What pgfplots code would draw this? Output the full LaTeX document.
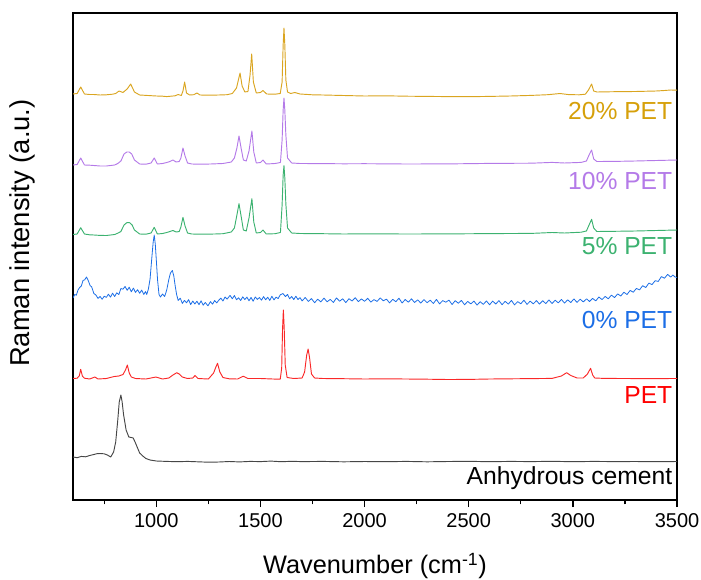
\documentclass[border=0pt]{standalone}
\usepackage{fontspec}
\setmainfont{Liberation Sans}
\usepackage{pgfplots}
\pgfplotsset{compat=1.18}
\definecolor{cgold}{RGB}{218,165,32}
\definecolor{cgoldt}{RGB}{214,160,10}
\definecolor{cpurple}{RGB}{180,122,232}
\definecolor{cgreen}{RGB}{60,178,112}
\definecolor{cblue}{RGB}{28,110,230}
\definecolor{cred}{RGB}{250,40,40}
\definecolor{cblack}{RGB}{70,70,70}
\begin{document}
\begin{tikzpicture}
\begin{axis}[
  at={(0,0)}, anchor=south west,
  scale only axis, width=453pt, height=365.25pt,
  xmin=600, xmax=3500, ymin=0, ymax=487,
  axis line style={line width=1.2pt},
  xtick={1000,1500,2000,2500,3000,3500},
  minor xtick={750,1250,1750,2250,2750,3250},
  xtick pos=bottom, ytick=\empty,
  tick align=outside,
  major tick length=5.25pt, minor tick length=3.2pt,
  every tick/.style={line width=1pt, black},
  /pgf/number format/assume math mode=true,
  /pgf/number format/1000 sep={},
  tick label style={font=\fontsize{15}{17}\selectfont},
  xticklabel style={yshift=-1pt},
  xlabel={Wavenumber (cm\textsuperscript{-1})},
  ylabel={Raman intensity (a.u.)},
  xlabel style={font=\fontsize{19}{22}\selectfont, at={(rel axis cs:0.5,0)}, anchor=center, yshift=-49.5pt},
  ylabel style={font=\fontsize{20.5}{24}\selectfont, at={([xshift=-38.25pt]rel axis cs:0,0.548)}, anchor=center},
  every axis plot/.append style={no marks, line width=0.7pt, line join=round},
  clip=true,
]
% 20% PET
\addplot[cgold] coordinates {
(600,406)(620,406.5)(637,413)(655,406)(680,405.5)(700,405.5)(730,405)(760,405.2)(790,405.8)(805,406.5)(821,409)(840,407.5)(860,411)(877,416)(895,408)(920,405)(960,404.5)(1000,404)(1030,403.8)(1050,403.4)(1075,403.9)(1090,404.2)(1105,405.5)(1120,404.5)(1128,409)(1136,418)(1145,407)(1160,405)(1180,405.3)(1195,407)(1210,405)(1250,404.8)(1300,405)(1340,405.3)(1365,406.5)(1385,412)(1402,427)(1412,414)(1425,408)(1440,408.5)(1450,425)(1458,446)(1466,418)(1480,407)(1500,407.5)(1512,409.5)(1530,406)(1570,405.8)(1595,406.5)(1604,418)(1609,455)(1613,472)(1617,455)(1622,420)(1630,408)(1645,406.5)(1665,407.5)(1690,406)(1750,405.2)(1800,405)(1900,404.5)(2000,404)(2100,404.2)(2200,403.8)(2300,403.6)(2400,403.4)(2500,403.3)(2600,403.6)(2700,404)(2800,404.6)(2880,405.3)(2938,406.5)(2980,405.4)(3030,405.2)(3060,405.8)(3075,410)(3090,416)(3100,409)(3115,408)(3200,408.3)(3300,408.5)(3400,409)(3440,409.5)(3470,410)(3500,409.8)
};
% 10% PET
\addplot[cpurple] coordinates {
(600,335)(620,335.5)(637,342)(655,335)(680,334.8)(700,334.5)(730,334)(760,334)(800,335)(815,336.5)(830,339)(845,346)(858,348)(870,348)(882,346)(895,340)(920,336)(950,335.8)(975,337)(990,342)(1005,336)(1030,336.5)(1050,337.5)(1065,338.5)(1080,340)(1095,338)(1110,338.5)(1118,342)(1128,352)(1138,344)(1150,337)(1170,336)(1210,335.8)(1260,336)(1320,336.5)(1360,338)(1375,342)(1387,352)(1397,364)(1407,352)(1418,340)(1432,339)(1445,349)(1459,369)(1468,348)(1480,337)(1500,337.5)(1512,340)(1528,336)(1570,336.5)(1596,337.5)(1604,360)(1609,390)(1613,402)(1617,390)(1622,365)(1630,342)(1650,337)(1690,336.5)(1800,336.4)(1900,336.2)(2000,336.3)(2200,336)(2400,336.1)(2600,336.6)(2800,336.8)(2900,337.6)(2960,337)(3040,337.6)(3065,339)(3080,346)(3090,350)(3100,341)(3115,338.5)(3200,338.6)(3300,339)(3400,339.5)(3500,340)
};
% 5% PET
\addplot[cgreen] coordinates {
(600,265.5)(620,266)(637,272.3)(655,266)(680,265.2)(700,265)(730,264.6)(760,264.5)(800,265.5)(815,266.8)(830,268.5)(845,275)(858,277.3)(872,277.3)(884,275)(895,270)(920,266)(950,265.8)(975,267)(990,272.7)(1005,266)(1030,266.5)(1050,267.5)(1065,268.5)(1080,269.5)(1095,268)(1110,268.5)(1118,273)(1128,282.7)(1138,274)(1150,267)(1170,266)(1220,265.8)(1280,266)(1320,266.3)(1360,268)(1375,272)(1387,285)(1397,296.3)(1407,284)(1418,270)(1432,269)(1445,282)(1459,301.3)(1468,278)(1480,267)(1500,267.5)(1512,270)(1528,266)(1570,266.3)(1596,267.5)(1604,295)(1609,325)(1613,334.3)(1617,322)(1622,296)(1630,272)(1650,267)(1690,266.5)(1800,266.3)(1900,266)(2000,266.2)(2200,266)(2400,266.1)(2600,266.4)(2800,266.6)(2900,267.5)(2960,267)(3040,267.8)(3065,269)(3080,276)(3090,280.7)(3100,272)(3115,268.5)(3200,268.7)(3300,269)(3400,269.5)(3500,270)
};
% 0% PET
\addplot[cblue, line width=0.6pt] coordinates {
(600,202)(608,205.5)(616,204.8)(624,210)(632,212.5)(640,214)(648,219.5)(656,220.2)(665,223)(674,219)(682,214.5)(690,213)(700,206.5)(710,205)(720,201.6)(730,203.5)(740,200.8)(750,203.8)(760,202.6)(770,205.8)(780,202.9)(790,206.8)(800,203.5)(810,207.2)(820,205.4)(830,211.5)(840,210.8)(850,213.6)(860,209.7)(870,212.8)(880,208.2)(890,211.9)(900,207.6)(910,210.3)(920,206.8)(930,209.9)(940,205.6)(948,208.4)(954,205.5)(962,211)(970,221)(976,236)(980,246)(985,258)(990,265)(995,256)(1000,240)(1006,220)(1013,205.5)(1020,203)(1030,206)(1040,203.5)(1050,210)(1060,220.5)(1068,227)(1077,229.5)(1084,224)(1090,215)(1097,206)(1105,199.5)(1115,201.8)(1125,196.6)(1135,199.6)(1145,197.2)(1155,200.4)(1165,195.4)(1175,199)(1185,196)(1195,198.8)(1205,195.3)(1215,199.2)(1225,194.8)(1235,197.5)(1248,194.2)(1260,198.4)(1270,195.8)(1280,199.5)(1290,197.1)(1300,199.8)(1310,201.9)(1320,199)(1330,203)(1340,200.9)(1354,204.6)(1365,201.2)(1375,204.5)(1385,200.3)(1395,202.2)(1405,199.5)(1415,203.2)(1425,200.4)(1435,202.9)(1445,199.2)(1455,202.6)(1465,198.7)(1475,203.1)(1485,200.6)(1495,202.5)(1505,199.8)(1515,203.4)(1525,200.2)(1535,202.8)(1545,199.6)(1555,203.7)(1565,200.1)(1575,202.9)(1585,201.4)(1595,205.2)(1608,206.5)(1620,203.4)(1630,205.6)(1640,201.2)(1650,203.5)(1660,200.4)(1670,203.8)(1680,200.5)(1690,202.4)(1700,199.1)(1715,202.5)(1730,198.6)(1745,201.4)(1760,197.3)(1775,200.8)(1790,198.1)(1805,201.9)(1820,198.2)(1835,200.6)(1850,197.5)(1865,202.1)(1880,198.8)(1895,201.2)(1910,197.4)(1925,201.3)(1940,199)(1955,202.3)(1970,198.4)(1985,201.1)(2000,198.7)(2015,201.7)(2030,197.9)(2045,200.4)(2060,198.6)(2075,202.1)(2090,199.2)(2105,200.9)(2120,197.1)(2135,200.7)(2150,198.3)(2165,201.8)(2180,197)(2195,200.5)(2210,197.8)(2225,201.2)(2240,197.5)(2255,200.2)(2270,196.9)(2285,200.4)(2300,197.3)(2315,199.8)(2330,196.5)(2345,200.6)(2360,196.1)(2375,199.4)(2390,197.8)(2405,199.9)(2420,195.5)(2435,199.3)(2450,196.8)(2465,199.6)(2480,195.2)(2495,198.6)(2510,196.1)(2525,198.9)(2540,194.9)(2555,198.3)(2570,195.6)(2585,199.1)(2600,195.2)(2615,198.9)(2630,196)(2645,199.4)(2660,195.3)(2675,198.7)(2690,195.9)(2705,199.6)(2720,195.1)(2735,198.4)(2750,196.2)(2765,199.8)(2780,195.6)(2795,198.9)(2810,196.1)(2825,199.4)(2840,195.9)(2855,199.3)(2870,196.4)(2885,200.1)(2900,196.5)(2915,199.8)(2930,197.1)(2945,200.6)(2960,196.9)(2975,200.2)(2990,197.5)(3005,201.1)(3020,197.6)(3035,200.8)(3050,198.1)(3066,201.2)(3080,198.5)(3095,201.6)(3110,199.1)(3125,203)(3140,200.4)(3155,203.6)(3170,201.2)(3185,204.9)(3200,202.4)(3215,206.1)(3230,204)(3245,207.8)(3260,205.5)(3275,209.6)(3290,207.8)(3305,211.6)(3320,210.1)(3335,214.3)(3350,212.5)(3365,216.9)(3380,215.4)(3395,219.3)(3410,218.6)(3425,223.4)(3440,221.8)(3455,225.6)(3470,222.9)(3480,225)(3490,223.1)(3500,222.5)
};
% PET
\addplot[cred] coordinates {
(600,121.5)(620,121.8)(630,124)(637,130.7)(645,124)(655,121.8)(680,121)(705,123)(720,121)(760,121.5)(798,123.5)(820,124)(840,125.5)(852,130)(861,135)(870,127)(880,123)(900,121.5)(950,121)(998,123)(1030,121)(1060,122)(1080,125)(1098,127.3)(1110,126)(1125,123)(1150,121.5)(1175,122)(1186,124.5)(1200,121.5)(1250,121)(1275,127)(1286,133)(1294,136.7)(1305,128)(1320,122.5)(1350,121.2)(1390,121)(1417,123.8)(1440,121.5)(1500,121.5)(1560,121)(1595,120.8)(1602,132)(1606,170)(1610,190)(1614,172)(1619,135)(1628,122.5)(1660,121.5)(1700,122)(1712,128)(1722,145)(1729,151)(1736,142)(1745,126)(1760,122)(1800,121.5)(1900,121.3)(2000,121)(2100,121.2)(2200,121)(2300,120.8)(2400,120.5)(2500,120.6)(2600,121)(2700,121.2)(2800,121.4)(2900,121.6)(2945,124)(2970,127.3)(2990,124.5)(3020,122)(3050,122)(3070,126)(3085,131.7)(3095,125)(3105,122)(3150,121.6)(3250,121.5)(3350,121.4)(3500,121.5)
};
% Anhydrous cement
\addplot[cblack] coordinates {
(600,43)(620,42.3)(640,43.6)(660,43.2)(680,44.5)(700,45.5)(715,46.3)(730,46.5)(750,46.2)(765,45)(781,43)(795,48)(805,58)(815,80)(822,98)(830,105)(836,98)(843,85)(855,70)(868,63)(880,62.5)(889,62)(898,58)(908,53)(920,47)(935,44)(950,41.5)(970,40)(1000,39)(1050,38.6)(1100,38.3)(1150,38.6)(1200,38.2)(1250,37.8)(1300,38)(1350,38.5)(1400,38.1)(1450,38.6)(1500,38.4)(1550,38.9)(1600,38.3)(1650,38.7)(1700,38.4)(1800,38.6)(1900,38.2)(2000,38.5)(2100,38.3)(2200,38.6)(2300,38.2)(2400,38.5)(2500,38.7)(2600,38.3)(2700,38.6)(2800,38.4)(2900,38.7)(3000,38.3)(3100,38.6)(3200,38.4)(3300,38.5)(3400,38.3)(3500,38.5)
};
\node[anchor=east, text=cgoldt, font=\fontsize{18.5}{22}\selectfont] at (axis cs:3500,389) {20\% PET};
\node[anchor=east, text=cpurple, font=\fontsize{18.5}{22}\selectfont] at (axis cs:3500,319) {10\% PET};
\node[anchor=east, text=cgreen, font=\fontsize{18.5}{22}\selectfont] at (axis cs:3500,254) {5\% PET};
\node[anchor=east, text=cblue, font=\fontsize{18.5}{22}\selectfont] at (axis cs:3500,180) {0\% PET};
\node[anchor=east, text=red, font=\fontsize{18.5}{22}\selectfont] at (axis cs:3500,105) {PET};
\node[anchor=east, text=black, font=\fontsize{18.5}{22}\selectfont] at (axis cs:3500,22) {Anhydrous cement};
\end{axis}
\pgfresetboundingbox
\path ([shift={(-54.75pt,-59.25pt)}]current axis.south west) rectangle ([shift={(18pt,9.75pt)}]current axis.north east);
\end{tikzpicture}
\end{document}
